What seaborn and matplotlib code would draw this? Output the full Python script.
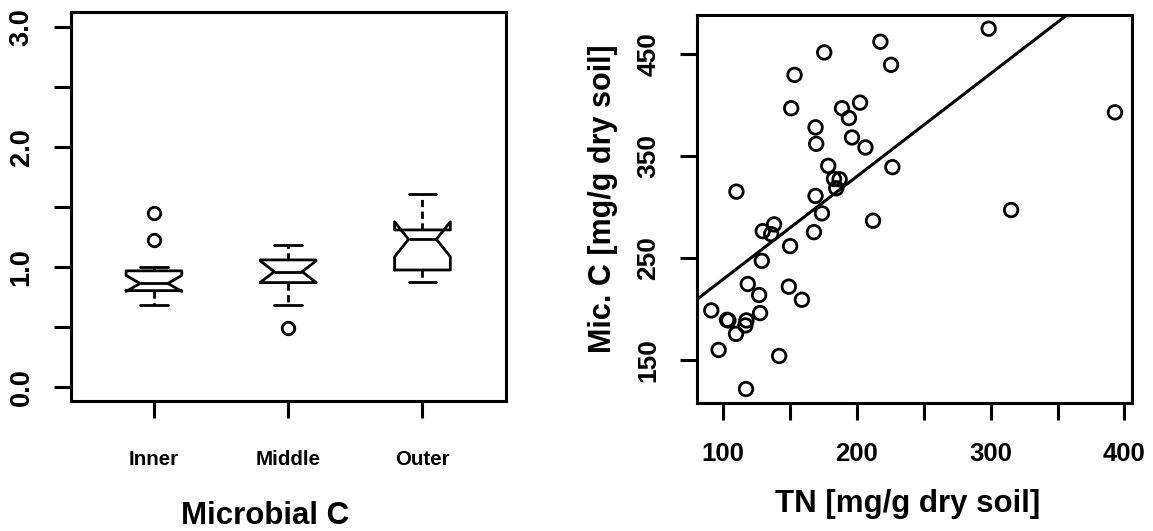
import numpy as np
import pandas as pd
import matplotlib
matplotlib.use("Agg")
import matplotlib.pyplot as plt
import seaborn as sns

# ---------------- data ----------------
zones = ["Inner", "Middle", "Outer"]
inner_vals = [0.68, 0.72, 0.76, 0.79, 0.81, 0.83, 0.85, 0.86, 0.88, 0.91, 0.95, 0.98, 1.00, 1.22, 1.445]
middle_vals = [0.49, 0.68, 0.85, 0.884, 0.92, 0.958, 0.99, 1.03, 1.082, 1.12, 1.18]
outer_vals = [0.873, 0.91, 0.94, 0.972, 1.03, 1.12, 1.228, 1.25, 1.28, 1.306, 1.38, 1.48, 1.603]
box_yticks = [0.0, 0.5, 1.0, 1.5, 2.0, 2.5, 3.0]
box_yticklabels = ["0.0", "", "1.0", "", "2.0", "", "3.0"]

tn = [298.5, 217.5, 175.5, 225.5, 153.3, 150.8, 188.8, 202.3, 194.0, 169.0,
      169.5, 196.3, 206.3, 393.0, 226.5, 178.5, 182.8, 187.0, 184.5, 169.0,
      109.8, 173.8, 212.0, 315.3, 138.0, 129.5, 135.8, 167.8, 150.0, 128.8,
      118.3, 126.8, 149.0, 158.8, 91.0, 102.8, 103.8, 117.3, 116.5, 127.5,
      109.5, 96.5, 141.8, 117.0]
micc = [474.6, 461.8, 451.3, 439.2, 429.3, 396.6, 396.6, 402.1, 387.0, 377.9,
        361.8, 368.0, 358.2, 392.6, 338.9, 340.2, 327.4, 327.0, 318.2, 310.7,
        314.9, 293.6, 286.4, 296.9, 282.8, 276.2, 273.3, 275.2, 261.5, 247.1,
        224.4, 213.6, 221.8, 209.0, 198.5, 189.3, 188.7, 188.7, 183.8, 195.9,
        175.6, 159.8, 153.9, 121.5]
fit_intercept = 128.5
fit_slope = 1.007
sc_xticks = [100, 150, 200, 250, 300, 350, 400]
sc_xticklabels = ["100", "", "200", "", "300", "", "400"]
sc_yticks = [150, 250, 350, 450]
sc_yticklabels = ["150", "250", "350", "450"]

# ---------------- style ----------------
sns.set_style("ticks")
plt.rcParams["font.family"] = ["Liberation Sans", "DejaVu Sans"]
plt.rcParams["font.weight"] = "bold"
plt.rcParams["text.color"] = "black"
plt.rcParams["axes.labelcolor"] = "black"
plt.rcParams["xtick.color"] = "black"
plt.rcParams["ytick.color"] = "black"

W, H = 1153, 531
fig = plt.figure(figsize=(W / 100, H / 100), dpi=100)
fig.patch.set_facecolor("white")

def px_axes(l, r, t, b):
    return fig.add_axes([l / W, 1 - b / H, (r - l) / W, (b - t) / H])

LW = 2.2
ax1 = px_axes(70.7, 505.7, 12.3, 401.0)
ax2 = px_axes(696.7, 1131.7, 15.0, 403.0)

df = pd.DataFrame({
    "zone": ["Inner"] * len(inner_vals) + ["Middle"] * len(middle_vals) + ["Outer"] * len(outer_vals),
    "value": inner_vals + middle_vals + outer_vals,
})

sns.boxplot(
    data=df, x="zone", y="value", order=zones, ax=ax1,
    notch=True, width=0.415, whis=1.5, fill=False, color="black",
    linewidth=2.0,
    whiskerprops=dict(linestyle=(0, (2.6, 1.6)), color="black"),
    capprops=dict(color="black", linestyle="-"),
    medianprops=dict(color="black"),
    boxprops=dict(color="black"),
    flierprops=dict(marker="o", markersize=9.0, markerfacecolor="none",
                    markeredgecolor="black", markeredgewidth=2.0),
)
ax1.set_xlim(-0.62, 2.62)
ax1.set_ylim(-0.12, 3.12)
ax1.set_yticks(box_yticks)
ax1.set_yticklabels(box_yticklabels, rotation=90, va="center", fontsize=19.5, fontweight="bold")
ax1.set_xticks(range(len(zones)))
ax1.set_xticklabels(zones, fontsize=14.8, fontweight="bold")
ax1.set_xlabel("")
ax1.set_ylabel("")
ax1.tick_params(axis="x", length=12, width=LW, pad=23, colors="black")
ax1.tick_params(axis="y", length=12, width=LW, pad=14, colors="black")

sns.scatterplot(x=tn, y=micc, ax=ax2, s=95, facecolor="none",
                edgecolor="black", linewidth=2.0)
ax2.axline((0, fit_intercept), slope=fit_slope, color="black", lw=LW)
ax2.set_xlim(80.1, 405.5)
ax2.set_ylim(107.8, 488.0)
ax2.set_xticks(sc_xticks)
ax2.set_xticklabels(sc_xticklabels, fontsize=18.5, fontweight="bold")
ax2.set_yticks(sc_yticks)
ax2.set_yticklabels(sc_yticklabels, rotation=90, va="center", fontsize=19, fontweight="bold")
ax2.tick_params(axis="x", length=12, width=LW, pad=16, colors="black")
ax2.tick_params(axis="y", length=12, width=LW, pad=14, colors="black")

for ax in (ax1, ax2):
    for sp in ax.spines.values():
        sp.set_visible(True)
        sp.set_linewidth(LW)
        sp.set_color("black")
    ax.grid(False)

fig.text(264.7 / W, 1 - 524 / H, "Microbial C", ha="center", va="baseline",
         fontsize=22.5, fontweight="bold", color="black")
fig.text(907.5 / W, 1 - 511.7 / H, "TN [mg/g dry soil]", ha="center", va="baseline",
         fontsize=22.5, fontweight="bold", color="black")
fig.text(602.8 / W, 1 - 199 / H, "Mic. C [mg/g dry soil]", ha="center", va="center",
         rotation=90, fontsize=22, fontweight="bold", color="black")

fig.savefig("out.png", dpi=100, facecolor="white")
